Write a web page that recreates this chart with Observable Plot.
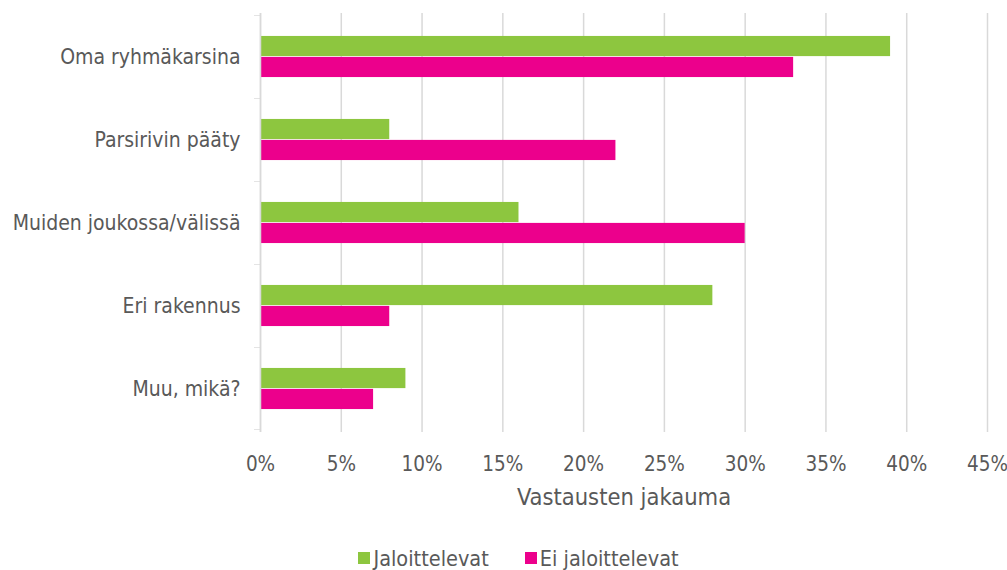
<!DOCTYPE html>
<html><head><meta charset="utf-8">
<script src="https://cdn.jsdelivr.net/npm/d3@7"></script>
<script src="https://cdn.jsdelivr.net/npm/@observablehq/plot@0.6"></script>
<style>
body{margin:0;background:#fff;font-family:"DejaVu Sans Condensed","DejaVu Sans",sans-serif;}
#chart svg{display:block}
g[aria-label="x-axis label"] text{font-size:23.5px}
g[aria-label="y-axis tick label"] text{font-size:21px}
.legend{display:flex;justify-content:center;align-items:center;gap:36px;height:50px;padding-top:26px;padding-left:30px;box-sizing:border-box;font-size:21.5px;color:#595959;width:1007px}
.legend span.item{display:flex;align-items:center;gap:3px}
.legend span.sw{display:inline-block;width:12px;height:12px}
</style></head><body><div id="chart"></div><script>
const categories = ["Oma ryhmäkarsina","Parsirivin pääty","Muiden joukossa/välissä","Eri rakennus","Muu, mikä?"];
const series = ["Jaloittelevat","Ei jaloittelevat"];
const jaloittelevat = [0.39,0.08,0.16,0.28,0.09];
const eiJaloittelevat = [0.33,0.22,0.30,0.08,0.07];
const xTicks = [0,0.05,0.10,0.15,0.20,0.25,0.30,0.35,0.40,0.45];
const colors = ["#8DC63F","#EC008C"];
const axisTitle = "Vastausten jakauma";

const data = categories.flatMap((c,i)=>[
  {category:c, series:series[0], value:jaloittelevat[i]},
  {category:c, series:series[1], value:eiJaloittelevat[i]}
]);
const W=1007,H=520,mt=13,mb=88,ml=260,mr=20;
const bw=(H-mt-mb)/categories.length;
const fmt=d3.format(".0%");
const plot = Plot.plot({
  width:W,height:H,marginLeft:ml,marginRight:mr,marginTop:mt,marginBottom:mb,
  style:{fontFamily:'"DejaVu Sans Condensed","DejaVu Sans",sans-serif',fontSize:"20.5px",color:"#595959",background:"#fff"},
  x:{domain:[0,0.45],ticks:xTicks,tickFormat:fmt,label:axisTitle,labelAnchor:"center",labelArrow:"none",labelOffset:72},
  y:{domain:categories,padding:0},
  color:{domain:series,range:colors},
  marks:[
    Plot.gridX(xTicks,{stroke:"#d9d9d9",strokeOpacity:1,strokeWidth:1.5}),
    Plot.barX(data.filter(d=>d.series===series[0]),{x:"value",y:"category",fill:"series",insetTop:bw*0.25,insetBottom:bw*0.5}),
    Plot.barX(data.filter(d=>d.series===series[1]),{x:"value",y:"category",fill:"series",insetTop:bw*0.5,insetBottom:bw*0.25}),
    Plot.ruleX([0],{stroke:"#d9d9d9",strokeWidth:1.5}),
    Plot.barX(categories,{x1:0,x2:0,y:d=>d,insetLeft:-6,insetBottom:bw-1.5,fill:"#d9d9d9"}),
    Plot.barX(categories.slice(-1),{x1:0,x2:0,y:d=>d,insetLeft:-6,insetTop:bw-1.5,fill:"#d9d9d9"}),
    Plot.axisX({ticks:xTicks,tickFormat:fmt,tickSize:0,tickPadding:24,label:axisTitle,labelAnchor:"center",labelArrow:"none",labelOffset:72}),
    Plot.axisY({tickSize:0,tickPadding:20,label:null})
  ]
});
document.getElementById("chart").appendChild(plot);
const lg=document.createElement("div");lg.className="legend";
series.forEach((s,i)=>{const it=document.createElement("span");it.className="item";
  const sw=document.createElement("span");sw.className="sw";sw.style.background=colors[i];
  const t=document.createElement("span");t.textContent=s;it.appendChild(sw);it.appendChild(t);lg.appendChild(it);});
document.body.appendChild(lg);
</script></body></html>
